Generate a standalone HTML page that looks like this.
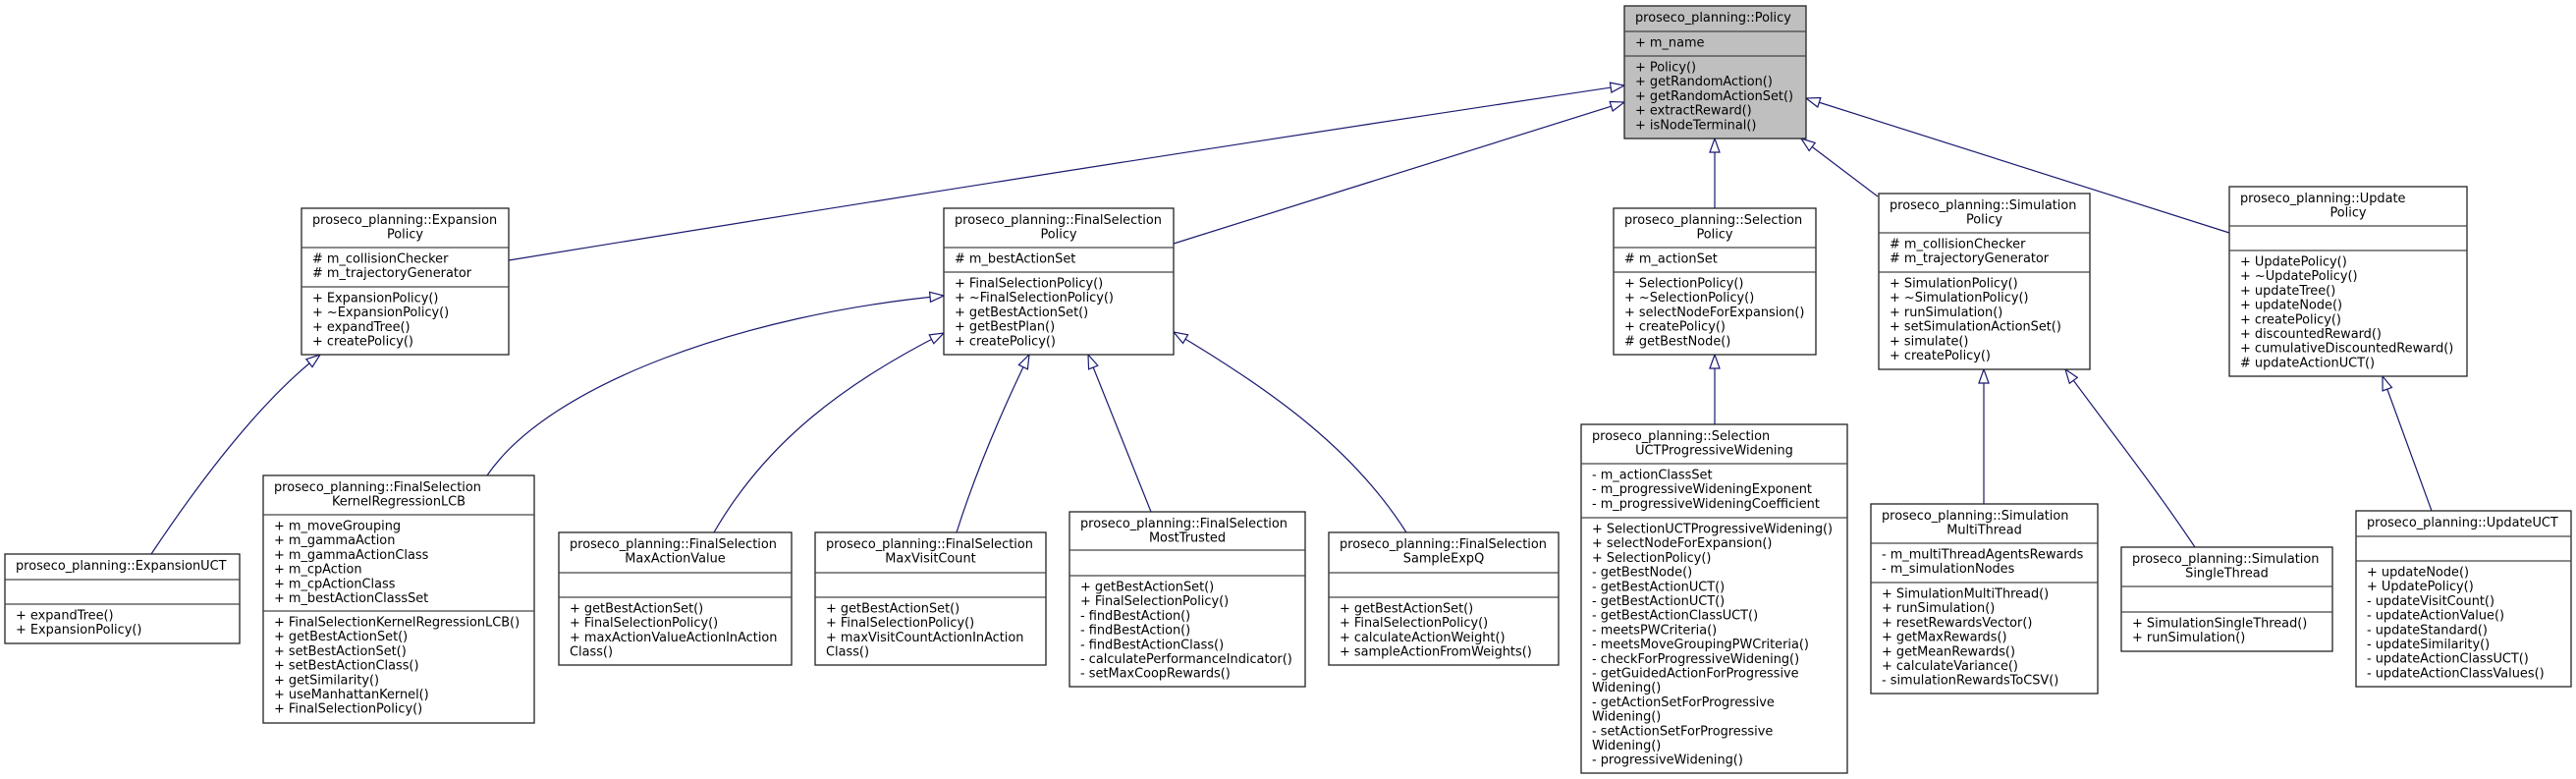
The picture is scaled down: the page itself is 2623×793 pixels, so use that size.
<!DOCTYPE html>
<html><head><meta charset="utf-8">
<style>
html,body{margin:0;padding:0;background:#fff;}
svg{display:block;}
text{font-family:"DejaVu Sans","Liberation Sans",sans-serif;font-size:12.9px;fill:#000;}
.b{fill:#fff;stroke:#222;stroke-width:1.3;}
.g{fill:#bfbfbf;stroke:#222;stroke-width:1.3;}
.s{stroke:#444;stroke-width:1.3;}
.e{fill:none;stroke:#191970;stroke-width:1.2;marker-end:url(#a);}
</style></head>
<body>
<svg width="2623" height="793" viewBox="0 0 2623 793" xmlns="http://www.w3.org/2000/svg">
<defs>
<marker id="a" markerWidth="16" markerHeight="12" refX="15" refY="6" orient="auto" markerUnits="userSpaceOnUse">
<path d="M1,1 L15,6 L1,11 Z" fill="#fff" stroke="#191970" stroke-width="1.2"/>
</marker>
</defs>

<!-- edges -->
<path class="e" d="M518,265 Q1100,170 1654,87"/>
<path class="e" d="M1195,248 Q1430,175 1654,104"/>
<path class="e" d="M1746,212 L1746,141"/>
<path class="e" d="M1912,200 L1834,141"/>
<path class="e" d="M2270,237 L1839,100"/>
<path class="e" d="M154,564 Q250,420 326,361"/>
<path class="e" d="M496,484 C560,390 760,320 961,301"/>
<path class="e" d="M727,542 C780,450 860,390 961,339"/>
<path class="e" d="M974,542 Q1000,460 1048,361"/>
<path class="e" d="M1172,521 L1108,361"/>
<path class="e" d="M1432,542 C1380,460 1300,400 1195,338"/>
<path class="e" d="M1746,432 L1746,361"/>
<path class="e" d="M2020,513 L2020,376"/>
<path class="e" d="M2235,557 C2190,490 2150,440 2103,376"/>
<path class="e" d="M2476,520 L2426,383"/>

<!-- Policy -->
<rect class="g" x="1654" y="6" width="185" height="135"/>
<line class="s" x1="1654" y1="32" x2="1839" y2="32"/><line class="s" x1="1654" y1="57" x2="1839" y2="57"/>
<text x="1665" y="22">proseco_planning::Policy</text>
<text x="1665" y="47.5">+ m_name</text>
<text y="72.5"><tspan x="1665">+ Policy()</tspan><tspan x="1665" dy="14.7">+ getRandomAction()</tspan><tspan x="1665" dy="14.7">+ getRandomActionSet()</tspan><tspan x="1665" dy="14.7">+ extractReward()</tspan><tspan x="1665" dy="14.7">+ isNodeTerminal()</tspan></text>

<!-- Expansion Policy -->
<rect class="b" x="307" y="212" width="211" height="149"/>
<line class="s" x1="307" y1="252" x2="518" y2="252"/><line class="s" x1="307" y1="292" x2="518" y2="292"/>
<text x="318" y="228">proseco_planning::Expansion</text>
<text x="412.5" y="242.7" text-anchor="middle">Policy</text>
<text y="267.5"><tspan x="318"># m_collisionChecker</tspan><tspan x="318" dy="14.7"># m_trajectoryGenerator</tspan></text>
<text y="307.5"><tspan x="318">+ ExpansionPolicy()</tspan><tspan x="318" dy="14.7">+ ~ExpansionPolicy()</tspan><tspan x="318" dy="14.7">+ expandTree()</tspan><tspan x="318" dy="14.7">+ createPolicy()</tspan></text>

<!-- FinalSelection Policy -->
<rect class="b" x="961" y="212" width="234" height="149"/>
<line class="s" x1="961" y1="252" x2="1195" y2="252"/><line class="s" x1="961" y1="277" x2="1195" y2="277"/>
<text x="972" y="228">proseco_planning::FinalSelection</text>
<text x="1078" y="242.7" text-anchor="middle">Policy</text>
<text x="972" y="267.5"># m_bestActionSet</text>
<text y="292.5"><tspan x="972">+ FinalSelectionPolicy()</tspan><tspan x="972" dy="14.7">+ ~FinalSelectionPolicy()</tspan><tspan x="972" dy="14.7">+ getBestActionSet()</tspan><tspan x="972" dy="14.7">+ getBestPlan()</tspan><tspan x="972" dy="14.7">+ createPolicy()</tspan></text>

<!-- Selection Policy -->
<rect class="b" x="1643" y="212" width="206" height="149"/>
<line class="s" x1="1643" y1="252" x2="1849" y2="252"/><line class="s" x1="1643" y1="277" x2="1849" y2="277"/>
<text x="1654" y="228">proseco_planning::Selection</text>
<text x="1746" y="242.7" text-anchor="middle">Policy</text>
<text x="1654" y="267.5"># m_actionSet</text>
<text y="292.5"><tspan x="1654">+ SelectionPolicy()</tspan><tspan x="1654" dy="14.7">+ ~SelectionPolicy()</tspan><tspan x="1654" dy="14.7">+ selectNodeForExpansion()</tspan><tspan x="1654" dy="14.7">+ createPolicy()</tspan><tspan x="1654" dy="14.7"># getBestNode()</tspan></text>

<!-- Simulation Policy -->
<rect class="b" x="1913" y="197" width="215" height="179"/>
<line class="s" x1="1913" y1="237" x2="2128" y2="237"/><line class="s" x1="1913" y1="277" x2="2128" y2="277"/>
<text x="1924" y="213">proseco_planning::Simulation</text>
<text x="2020.5" y="227.7" text-anchor="middle">Policy</text>
<text y="252.5"><tspan x="1924"># m_collisionChecker</tspan><tspan x="1924" dy="14.7"># m_trajectoryGenerator</tspan></text>
<text y="292.5"><tspan x="1924">+ SimulationPolicy()</tspan><tspan x="1924" dy="14.7">+ ~SimulationPolicy()</tspan><tspan x="1924" dy="14.7">+ runSimulation()</tspan><tspan x="1924" dy="14.7">+ setSimulationActionSet()</tspan><tspan x="1924" dy="14.7">+ simulate()</tspan><tspan x="1924" dy="14.7">+ createPolicy()</tspan></text>

<!-- Update Policy -->
<rect class="b" x="2270" y="190" width="242" height="193"/>
<line class="s" x1="2270" y1="230" x2="2512" y2="230"/><line class="s" x1="2270" y1="255" x2="2512" y2="255"/>
<text x="2281" y="206">proseco_planning::Update</text>
<text x="2391" y="220.7" text-anchor="middle">Policy</text>
<text y="270.5"><tspan x="2281">+ UpdatePolicy()</tspan><tspan x="2281" dy="14.7">+ ~UpdatePolicy()</tspan><tspan x="2281" dy="14.7">+ updateTree()</tspan><tspan x="2281" dy="14.7">+ updateNode()</tspan><tspan x="2281" dy="14.7">+ createPolicy()</tspan><tspan x="2281" dy="14.7">+ discountedReward()</tspan><tspan x="2281" dy="14.7">+ cumulativeDiscountedReward()</tspan><tspan x="2281" dy="14.7"># updateActionUCT()</tspan></text>

<!-- ExpansionUCT -->
<rect class="b" x="5" y="564" width="239" height="91"/>
<line class="s" x1="5" y1="590" x2="244" y2="590"/><line class="s" x1="5" y1="615" x2="244" y2="615"/>
<text x="16" y="580">proseco_planning::ExpansionUCT</text>
<text y="630.5"><tspan x="16">+ expandTree()</tspan><tspan x="16" dy="14.7">+ ExpansionPolicy()</tspan></text>

<!-- KernelRegressionLCB -->
<rect class="b" x="268" y="484" width="276" height="252"/>
<line class="s" x1="268" y1="524" x2="544" y2="524"/><line class="s" x1="268" y1="622" x2="544" y2="622"/>
<text x="279" y="500">proseco_planning::FinalSelection</text>
<text x="406" y="514.7" text-anchor="middle">KernelRegressionLCB</text>
<text y="539.5"><tspan x="279">+ m_moveGrouping</tspan><tspan x="279" dy="14.7">+ m_gammaAction</tspan><tspan x="279" dy="14.7">+ m_gammaActionClass</tspan><tspan x="279" dy="14.7">+ m_cpAction</tspan><tspan x="279" dy="14.7">+ m_cpActionClass</tspan><tspan x="279" dy="14.7">+ m_bestActionClassSet</tspan></text>
<text y="637.5"><tspan x="279">+ FinalSelectionKernelRegressionLCB()</tspan><tspan x="279" dy="14.7">+ getBestActionSet()</tspan><tspan x="279" dy="14.7">+ setBestActionSet()</tspan><tspan x="279" dy="14.7">+ setBestActionClass()</tspan><tspan x="279" dy="14.7">+ getSimilarity()</tspan><tspan x="279" dy="14.7">+ useManhattanKernel()</tspan><tspan x="279" dy="14.7">+ FinalSelectionPolicy()</tspan></text>

<!-- MaxActionValue -->
<rect class="b" x="569" y="542" width="237" height="135"/>
<line class="s" x1="569" y1="583" x2="806" y2="583"/><line class="s" x1="569" y1="608" x2="806" y2="608"/>
<text x="580" y="558">proseco_planning::FinalSelection</text>
<text x="687.5" y="572.7" text-anchor="middle">MaxActionValue</text>
<text y="623.5"><tspan x="580">+ getBestActionSet()</tspan><tspan x="580" dy="14.7">+ FinalSelectionPolicy()</tspan><tspan x="580" dy="14.7">+ maxActionValueActionInAction</tspan><tspan x="580" dy="14.7">Class()</tspan></text>

<!-- MaxVisitCount -->
<rect class="b" x="830" y="542" width="235" height="135"/>
<line class="s" x1="830" y1="583" x2="1065" y2="583"/><line class="s" x1="830" y1="608" x2="1065" y2="608"/>
<text x="841" y="558">proseco_planning::FinalSelection</text>
<text x="947.5" y="572.7" text-anchor="middle">MaxVisitCount</text>
<text y="623.5"><tspan x="841">+ getBestActionSet()</tspan><tspan x="841" dy="14.7">+ FinalSelectionPolicy()</tspan><tspan x="841" dy="14.7">+ maxVisitCountActionInAction</tspan><tspan x="841" dy="14.7">Class()</tspan></text>

<!-- MostTrusted -->
<rect class="b" x="1089" y="521" width="240" height="178"/>
<line class="s" x1="1089" y1="560" x2="1329" y2="560"/><line class="s" x1="1089" y1="586" x2="1329" y2="586"/>
<text x="1100" y="537">proseco_planning::FinalSelection</text>
<text x="1209" y="551.7" text-anchor="middle">MostTrusted</text>
<text y="601.5"><tspan x="1100">+ getBestActionSet()</tspan><tspan x="1100" dy="14.7">+ FinalSelectionPolicy()</tspan><tspan x="1100" dy="14.7">- findBestAction()</tspan><tspan x="1100" dy="14.7">- findBestAction()</tspan><tspan x="1100" dy="14.7">- findBestActionClass()</tspan><tspan x="1100" dy="14.7">- calculatePerformanceIndicator()</tspan><tspan x="1100" dy="14.7">- setMaxCoopRewards()</tspan></text>

<!-- SampleExpQ -->
<rect class="b" x="1353" y="542" width="234" height="135"/>
<line class="s" x1="1353" y1="583" x2="1587" y2="583"/><line class="s" x1="1353" y1="608" x2="1587" y2="608"/>
<text x="1364" y="558">proseco_planning::FinalSelection</text>
<text x="1470" y="572.7" text-anchor="middle">SampleExpQ</text>
<text y="623.5"><tspan x="1364">+ getBestActionSet()</tspan><tspan x="1364" dy="14.7">+ FinalSelectionPolicy()</tspan><tspan x="1364" dy="14.7">+ calculateActionWeight()</tspan><tspan x="1364" dy="14.7">+ sampleActionFromWeights()</tspan></text>

<!-- SelectionUCTProgressiveWidening -->
<rect class="b" x="1610" y="432" width="271" height="355"/>
<line class="s" x1="1610" y1="472" x2="1881" y2="472"/><line class="s" x1="1610" y1="527" x2="1881" y2="527"/>
<text x="1621" y="448">proseco_planning::Selection</text>
<text x="1745.5" y="462.7" text-anchor="middle">UCTProgressiveWidening</text>
<text y="487.5"><tspan x="1621">- m_actionClassSet</tspan><tspan x="1621" dy="14.7">- m_progressiveWideningExponent</tspan><tspan x="1621" dy="14.7">- m_progressiveWideningCoefficient</tspan></text>
<text y="542.5"><tspan x="1621">+ SelectionUCTProgressiveWidening()</tspan><tspan x="1621" dy="14.7">+ selectNodeForExpansion()</tspan><tspan x="1621" dy="14.7">+ SelectionPolicy()</tspan><tspan x="1621" dy="14.7">- getBestNode()</tspan><tspan x="1621" dy="14.7">- getBestActionUCT()</tspan><tspan x="1621" dy="14.7">- getBestActionUCT()</tspan><tspan x="1621" dy="14.7">- getBestActionClassUCT()</tspan><tspan x="1621" dy="14.7">- meetsPWCriteria()</tspan><tspan x="1621" dy="14.7">- meetsMoveGroupingPWCriteria()</tspan><tspan x="1621" dy="14.7">- checkForProgressiveWidening()</tspan><tspan x="1621" dy="14.7">- getGuidedActionForProgressive</tspan><tspan x="1621" dy="14.7">Widening()</tspan><tspan x="1621" dy="14.7">- getActionSetForProgressive</tspan><tspan x="1621" dy="14.7">Widening()</tspan><tspan x="1621" dy="14.7">- setActionSetForProgressive</tspan><tspan x="1621" dy="14.7">Widening()</tspan><tspan x="1621" dy="14.7">- progressiveWidening()</tspan></text>

<!-- SimulationMultiThread -->
<rect class="b" x="1905" y="513" width="231" height="193"/>
<line class="s" x1="1905" y1="553" x2="2136" y2="553"/><line class="s" x1="1905" y1="593" x2="2136" y2="593"/>
<text x="1916" y="529">proseco_planning::Simulation</text>
<text x="2020.5" y="543.7" text-anchor="middle">MultiThread</text>
<text y="568.5"><tspan x="1916">- m_multiThreadAgentsRewards</tspan><tspan x="1916" dy="14.7">- m_simulationNodes</tspan></text>
<text y="608.5"><tspan x="1916">+ SimulationMultiThread()</tspan><tspan x="1916" dy="14.7">+ runSimulation()</tspan><tspan x="1916" dy="14.7">+ resetRewardsVector()</tspan><tspan x="1916" dy="14.7">+ getMaxRewards()</tspan><tspan x="1916" dy="14.7">+ getMeanRewards()</tspan><tspan x="1916" dy="14.7">+ calculateVariance()</tspan><tspan x="1916" dy="14.7">- simulationRewardsToCSV()</tspan></text>

<!-- SimulationSingleThread -->
<rect class="b" x="2160" y="557" width="215" height="106"/>
<line class="s" x1="2160" y1="597" x2="2375" y2="597"/><line class="s" x1="2160" y1="623" x2="2375" y2="623"/>
<text x="2171" y="573">proseco_planning::Simulation</text>
<text x="2267.5" y="587.7" text-anchor="middle">SingleThread</text>
<text y="638.5"><tspan x="2171">+ SimulationSingleThread()</tspan><tspan x="2171" dy="14.7">+ runSimulation()</tspan></text>

<!-- UpdateUCT -->
<rect class="b" x="2399" y="520" width="219" height="179"/>
<line class="s" x1="2399" y1="546" x2="2618" y2="546"/><line class="s" x1="2399" y1="571" x2="2618" y2="571"/>
<text x="2410" y="536">proseco_planning::UpdateUCT</text>
<text y="586.5"><tspan x="2410">+ updateNode()</tspan><tspan x="2410" dy="14.7">+ UpdatePolicy()</tspan><tspan x="2410" dy="14.7">- updateVisitCount()</tspan><tspan x="2410" dy="14.7">- updateActionValue()</tspan><tspan x="2410" dy="14.7">- updateStandard()</tspan><tspan x="2410" dy="14.7">- updateSimilarity()</tspan><tspan x="2410" dy="14.7">- updateActionClassUCT()</tspan><tspan x="2410" dy="14.7">- updateActionClassValues()</tspan></text>
</svg>
</body></html>
